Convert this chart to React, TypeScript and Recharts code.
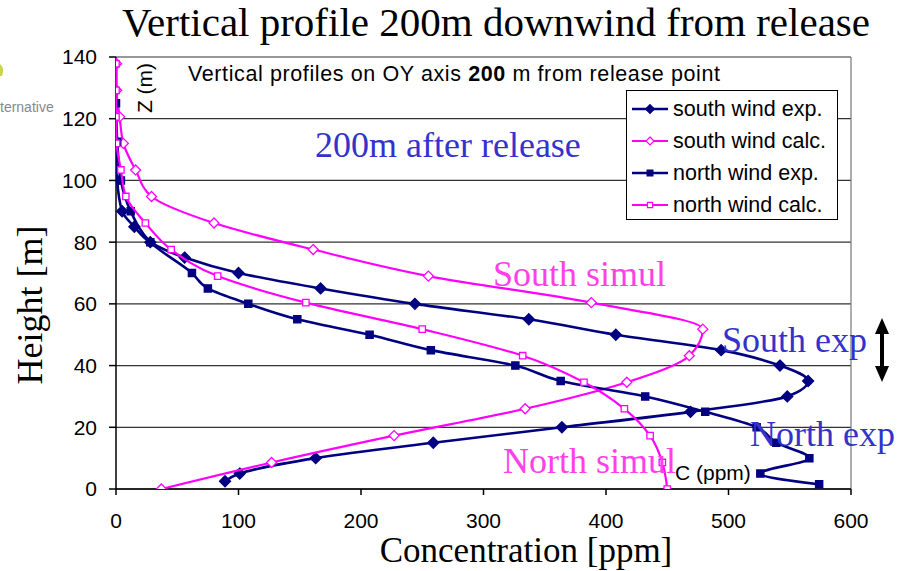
import React from "react";
import {
  CartesianGrid,
  Legend,
  ReferenceLine,
  Scatter,
  ScatterChart,
  XAxis,
  YAxis,
} from "recharts";

const NAVY = "#000080";
const MAGENTA = "#FF00FF";
const BLUE_TEXT = "#3333CC";
const PINK_TEXT = "#FF3FE8";
const SANS = "'Liberation Sans', Arial, sans-serif";
const SERIF = "'Liberation Serif', 'Times New Roman', serif";

// heights [m] and concentrations [ppm] per profile
const SOUTH_EXP_H = [2.5, 5, 10, 15, 20, 25, 30, 35, 40, 45, 50, 55, 60, 65, 70, 75, 80, 85, 90, 100, 112.5];
const SOUTH_EXP_C = [89, 101, 163, 259, 364, 469, 548, 565, 542, 494, 408, 337, 244, 167, 100, 56, 28, 15, 5, 1, 0];

const SOUTH_CALC_H = [0, 8.6, 17.3, 26, 34.6, 43.2, 51.8, 60.4, 69, 77.6, 86.2, 94.8, 103.4, 112, 120.6, 129.2, 137.8];
const SOUTH_CALC_C = [37, 127, 227, 334, 417, 468, 479, 388, 255, 161, 80, 29, 16, 6, 3, 0.5, 0.5];

const NORTH_EXP_H = [1.5, 5, 10, 15, 20, 25, 30, 35, 40, 45, 50, 55, 60, 65, 70, 80, 90, 100, 112.5, 125];
const NORTH_EXP_C = [574, 526, 566, 539, 523, 481, 432, 363, 326, 257, 207, 148, 108, 75, 62, 28, 12, 4, 1, 0];

const NORTH_CALC_H = SOUTH_CALC_H;
const NORTH_CALC_C = [450, 446, 436, 415, 382, 332, 250, 155, 83, 45, 24, 8, 4, 0.5, 0, 0, 0];

const X_TICKS = [0, 100, 200, 300, 400, 500, 600];
const Y_TICKS = [0, 20, 40, 60, 80, 100, 120, 140];

const zip = (h: number[], c: number[]) => h.map((z, i) => ({ h: z, c: c[i] }));

type Marker = "diamond" | "square";

function markerPath(kind: Marker, cx: number, cy: number, r: number) {
  if (kind === "diamond") {
    return `M${cx},${cy - r}L${cx + r},${cy}L${cx},${cy + r}L${cx - r},${cy}Z`;
  }
  return `M${cx - r},${cy - r}H${cx + r}V${cy + r}H${cx - r}Z`;
}

const SERIES = [
  { name: "south wind exp.", data: zip(SOUTH_EXP_H, SOUTH_EXP_C), color: NAVY, marker: "diamond" as Marker, filled: true, r: 5.5, width: 2.6 },
  { name: "south wind calc.", data: zip(SOUTH_CALC_H, SOUTH_CALC_C), color: MAGENTA, marker: "diamond" as Marker, filled: false, r: 5, width: 2.2 },
  { name: "north wind exp.", data: zip(NORTH_EXP_H, NORTH_EXP_C), color: NAVY, marker: "square" as Marker, filled: true, r: 3.6, width: 2.6 },
  { name: "north wind calc.", data: zip(NORTH_CALC_H, NORTH_CALC_C), color: MAGENTA, marker: "square" as Marker, filled: false, r: 3.2, width: 2.2 },
];

const makeShape = (s: (typeof SERIES)[number]) => (props: any) => {
  const { cx, cy } = props;
  if (cx == null || cy == null) return <g />;
  return (
    <path
      d={markerPath(s.marker, cx, cy, s.r)}
      fill={s.filled ? s.color : "#fff"}
      stroke={s.color}
      strokeWidth={1.3}
    />
  );
};

// legend rows keep the series order, whatever order the payload comes in
function LegendBox({ payload }: any) {
  const names = new Set((payload || []).map((p: any) => p.value));
  const rows = SERIES.filter((s) => names.has(s.name));
  return (
    <svg width={212} height={130} style={{ display: "block" }}>
      <rect x={0.5} y={0.5} width={211} height={129} fill="#fff" stroke="#000" strokeWidth={1} />
      {rows.map((s, i) => {
        const y = 19 + i * 32;
        return (
          <g key={s.name}>
            <line x1={6} x2={42} y1={y} y2={y} stroke={s.color} strokeWidth={s.width} />
            <path
              d={markerPath(s.marker, 24, y, s.r * 0.8)}
              fill={s.filled ? s.color : "#fff"}
              stroke={s.color}
              strokeWidth={1.2}
            />
            <text x={47} y={y + 7} fontFamily={SANS} fontSize={21.5} fill="#000">
              {s.name}
            </text>
          </g>
        );
      })}
    </svg>
  );
}

export default function App() {
  return (
    <div style={{ position: "absolute", left: 0, top: 0, width: 897, height: 571, background: "#fff" }}>
      <ScatterChart width={897} height={571} margin={{ top: 57, right: 46, left: 56, bottom: 42 }}>
        <CartesianGrid vertical={false} stroke="#333" strokeWidth={1.2} />
        <XAxis
          type="number"
          dataKey="c"
          domain={[0, 600]}
          ticks={X_TICKS}
          allowDataOverflow
          height={40}
          stroke="#000"
          strokeWidth={1.5}
          tickSize={6}
          tickMargin={18}
          tick={{ fontSize: 21, fill: "#000", fontFamily: SANS }}
        />
        <YAxis
          type="number"
          dataKey="h"
          domain={[0, 140]}
          ticks={Y_TICKS}
          allowDataOverflow
          width={60}
          stroke="#000"
          strokeWidth={1.5}
          tickSize={7}
          tickMargin={12}
          tick={{ fontSize: 21, fill: "#000", fontFamily: SANS }}
        />
        <ReferenceLine x={600} stroke="#777" strokeWidth={1.2} />
        {SERIES.map((s) => (
          <Scatter
            key={s.name}
            name={s.name}
            data={s.data}
            fill={s.color}
            line={{ stroke: s.color, strokeWidth: s.width }}
            lineJointType="monotoneY"
            shape={makeShape(s)}
            isAnimationActive={false}
          />
        ))}
        <Legend
          layout="vertical"
          align="center"
          verticalAlign="middle"
          wrapperStyle={{ left: 626, top: 90, width: 212, height: 130 }}
          content={<LegendBox />}
        />
      </ScatterChart>

      <svg
        width={897}
        height={571}
        style={{ position: "absolute", left: 0, top: 0, pointerEvents: "none" }}
      >
        <path d="M0,64 Q5,68 2,76 L0,76 Z" fill="#c9d64a" />
        <text x={0} y={112} fontFamily={SANS} fontSize={14} fill="#888">
          ternative
        </text>
        <text x={496} y={36} textAnchor="middle" fontFamily={SERIF} fontSize={41} fill="#000">
          Vertical profile 200m downwind from release
        </text>
        <text x={526} y={562} textAnchor="middle" fontFamily={SERIF} fontSize={35} fill="#000">
          Concentration [ppm]
        </text>
        <text
          transform="translate(42,305) rotate(-90)"
          textAnchor="middle"
          fontFamily={SERIF}
          fontSize={36}
          fill="#000"
        >
          Height [m]
        </text>
        <text
          x={188}
          y={81}
          fontFamily={SANS}
          fontSize={21.5}
          fill="#000"
          textLength={532}
          lengthAdjust="spacing"
        >
          Vertical profiles on OY axis <tspan fontWeight="bold">200</tspan> m from release point
        </text>
        <text
          transform="translate(152,88) rotate(-90)"
          textAnchor="middle"
          fontFamily={SANS}
          fontSize={21}
          fill="#000"
        >
          Z (m)
        </text>
        <text x={315} y={157} fontFamily={SERIF} fontSize={36} fill={BLUE_TEXT}>
          200m after release
        </text>
        <text x={493} y={286} fontFamily={SERIF} fontSize={36} fill={PINK_TEXT}>
          South simul
        </text>
        <text x={722} y={352} fontFamily={SERIF} fontSize={36} fill={BLUE_TEXT}>
          South exp
        </text>
        <text x={750} y={446} fontFamily={SERIF} fontSize={36} fill={BLUE_TEXT}>
          North exp
        </text>
        <text x={675} y={480} fontFamily={SANS} fontSize={21} fill="#000">
          C (ppm)
        </text>
        <text x={503} y={473} fontFamily={SERIF} fontSize={36} fill={PINK_TEXT}>
          North simul
        </text>
        {/* double-headed arrow beside the plot */}
        <path
          d="M882,318 L889,334 L884,334 L884,366 L889,366 L882,382 L875,366 L880,366 L880,334 L875,334 Z"
          fill="#000"
        />
      </svg>
    </div>
  );
}
